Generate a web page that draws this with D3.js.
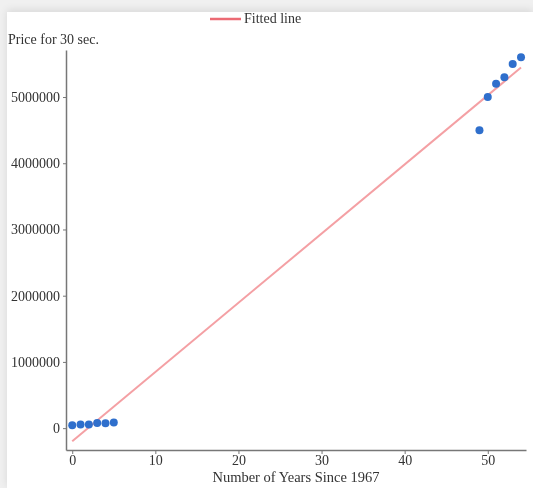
<!DOCTYPE html>
<html>
<head>
<meta charset="utf-8">
<script src="https://cdn.jsdelivr.net/npm/d3@7"></script>
<style>
  body { margin: 0; background: #f0f0f0; }
  #card { position: absolute; left: 7px; top: 12px; width: 526px; height: 476px; background: #fff;
          box-shadow: 0 -2px 8px rgba(0,0,0,0.10); }
  svg { position: absolute; left: 0; top: 0; filter: blur(0.5px); }
  text { font-family: "Liberation Serif", "Times New Roman", serif; fill: #333; }
</style>
</head>
<body>
<div id="card"></div>
<script>
// years since 1967 and price of a 30 second spot
var years = [0, 1, 2, 3, 4, 5, 49, 50, 51, 52, 53, 54];
var prices = [42000, 54000, 55000, 78200, 72400, 86100, 4500000, 5000000, 5200000, 5300000, 5500000, 5600000];
var xTicks = [0, 10, 20, 30, 40, 50];
var yTicks = [0, 1000000, 2000000, 3000000, 4000000, 5000000];

window.onload = function(){
    drawChart()
};

function drawChart(){
    var svg = d3.select("body").append("svg").attr("width", 533).attr("height", 488);

    var xScale = d3.scaleLinear().domain([-0.75, 54.6]).range([66, 526]);
    var yScale = d3.scaleLinear().domain([-330000, 5710000]).range([450, 50]);

    // least squares fit
    var mx = d3.mean(years), my = d3.mean(prices);
    var num = 0, den = 0;
    years.forEach(function(x, i){
        num += (x - mx) * (prices[i] - my);
        den += (x - mx) * (x - mx);
    });
    var slope = num / den;
    var icpt = my - slope * mx;
    var fit = [0, d3.max(years)].map(function(x){ return [x, icpt + slope * x]; });

    // axes
    var xAxis = svg.append("g")
        .attr("transform", "translate(0,450)")
        .call(d3.axisBottom(xScale).tickValues(xTicks).tickSize(4).tickSizeOuter(0));
    var yAxis = svg.append("g")
        .attr("transform", "translate(66,0)")
        .call(d3.axisLeft(yScale).tickValues(yTicks).tickSize(3).tickSizeOuter(0).tickFormat(d3.format("d")));
    [xAxis, yAxis].forEach(function(a){
        a.select(".domain").attr("stroke", "#777").attr("stroke-width", 1.5);
        a.selectAll(".tick line").attr("stroke", "#777");
        a.selectAll(".tick text").style("font-family", "Liberation Serif, serif").style("font-size", "14px").attr("fill", "#444");
    });
    xAxis.selectAll(".tick text").attr("dy", "0.6em");

    // fitted line
    svg.append("path")
        .datum(fit)
        .attr("d", d3.line().x(function(d){ return xScale(d[0]); }).y(function(d){ return yScale(d[1]); }))
        .attr("fill", "none")
        .attr("stroke", "#f4a0a4")
        .attr("stroke-width", 2);

    // points
    svg.selectAll(".dot")
        .data(years)
        .enter()
        .append("circle")
        .attr("class", "dot")
        .attr("cx", function(d){ return xScale(d); })
        .attr("cy", function(d, i){ return yScale(prices[i]); })
        .attr("r", 4)
        .attr("fill", "#2f6fcc");

    // legend
    svg.append("line")
        .attr("x1", 210).attr("x2", 241).attr("y1", 19).attr("y2", 19)
        .attr("stroke", "#ec6a74").attr("stroke-width", 2.5);
    svg.append("text")
        .attr("x", 244).attr("y", 23)
        .style("font-size", "14px")
        .text("Fitted line");

    // axis labels
    svg.append("text")
        .attr("x", 8).attr("y", 44)
        .style("font-size", "14px")
        .text("Price for 30 sec.");
    svg.append("text")
        .attr("x", 296).attr("y", 482)
        .style("text-anchor", "middle")
        .style("font-size", "14.5px")
        .text("Number of Years Since 1967");
}
</script>
</body>
</html>
